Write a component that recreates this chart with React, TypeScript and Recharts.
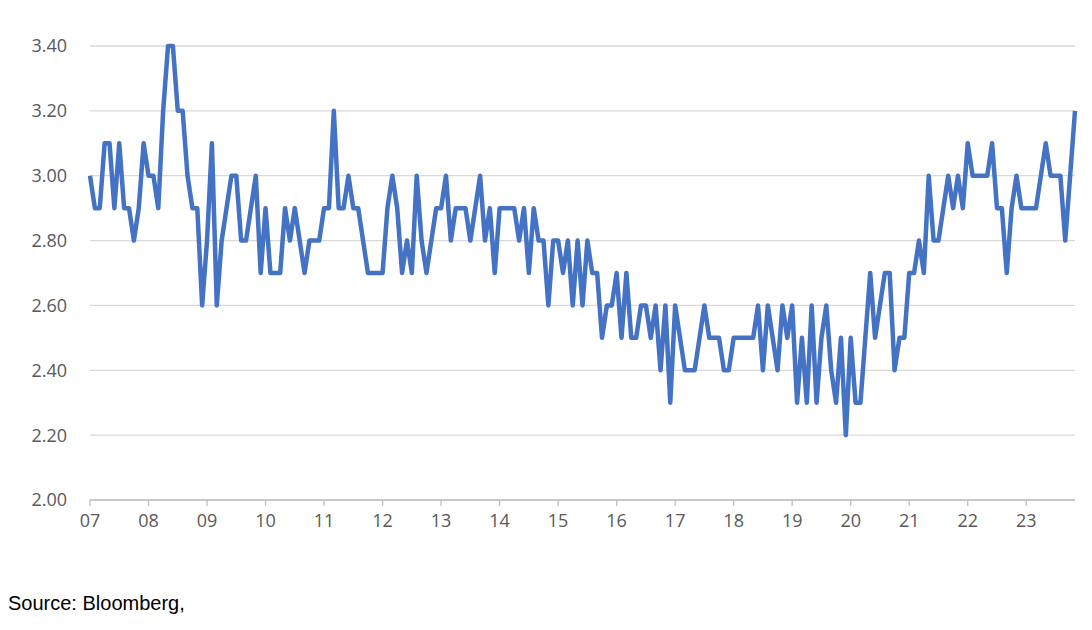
import React from 'react';
import { LineChart, Line, XAxis, YAxis, CartesianGrid } from 'recharts';

const yearLabels = ['07', '08', '09', '10', '11', '12', '13', '14', '15', '16', '17', '18', '19', '20', '21', '22', '23'];

const yTicks = [2.0, 2.2, 2.4, 2.6, 2.8, 3.0, 3.2, 3.4];

// Monthly values, Jan 2007 .. Nov 2023
const v2007 = [3.0, 2.9, 2.9, 3.1, 3.1, 2.9, 3.1, 2.9, 2.9, 2.8, 2.9, 3.1];
const v2008 = [3.0, 3.0, 2.9, 3.2, 3.4, 3.4, 3.2, 3.2, 3.0, 2.9, 2.9, 2.6];
const v2009 = [2.8, 3.1, 2.6, 2.8, 2.9, 3.0, 3.0, 2.8, 2.8, 2.9, 3.0, 2.7];
const v2010 = [2.9, 2.7, 2.7, 2.7, 2.9, 2.8, 2.9, 2.8, 2.7, 2.8, 2.8, 2.8];
const v2011 = [2.9, 2.9, 3.2, 2.9, 2.9, 3.0, 2.9, 2.9, 2.8, 2.7, 2.7, 2.7];
const v2012 = [2.7, 2.9, 3.0, 2.9, 2.7, 2.8, 2.7, 3.0, 2.8, 2.7, 2.8, 2.9];
const v2013 = [2.9, 3.0, 2.8, 2.9, 2.9, 2.9, 2.8, 2.9, 3.0, 2.8, 2.9, 2.7];
const v2014 = [2.9, 2.9, 2.9, 2.9, 2.8, 2.9, 2.7, 2.9, 2.8, 2.8, 2.6, 2.8];
const v2015 = [2.8, 2.7, 2.8, 2.6, 2.8, 2.6, 2.8, 2.7, 2.7, 2.5, 2.6, 2.6];
const v2016 = [2.7, 2.5, 2.7, 2.5, 2.5, 2.6, 2.6, 2.5, 2.6, 2.4, 2.6, 2.3];
const v2017 = [2.6, 2.5, 2.4, 2.4, 2.4, 2.5, 2.6, 2.5, 2.5, 2.5, 2.4, 2.4];
const v2018 = [2.5, 2.5, 2.5, 2.5, 2.5, 2.6, 2.4, 2.6, 2.5, 2.4, 2.6, 2.5];
const v2019 = [2.6, 2.3, 2.5, 2.3, 2.6, 2.3, 2.5, 2.6, 2.4, 2.3, 2.5, 2.2];
const v2020 = [2.5, 2.3, 2.3, 2.5, 2.7, 2.5, 2.6, 2.7, 2.7, 2.4, 2.5, 2.5];
const v2021 = [2.7, 2.7, 2.8, 2.7, 3.0, 2.8, 2.8, 2.9, 3.0, 2.9, 3.0, 2.9];
const v2022 = [3.1, 3.0, 3.0, 3.0, 3.0, 3.1, 2.9, 2.9, 2.7, 2.9, 3.0, 2.9];
const v2023 = [2.9, 2.9, 2.9, 3.0, 3.1, 3.0, 3.0, 3.0, 2.8, 3.0, 3.2];

const values = [
  ...v2007, ...v2008, ...v2009, ...v2010, ...v2011, ...v2012, ...v2013, ...v2014, ...v2015,
  ...v2016, ...v2017, ...v2018, ...v2019, ...v2020, ...v2021, ...v2022, ...v2023,
];

const data = values.map((v, i) => ({ i, v }));
const xTicks = yearLabels.map((_, k) => k * 12);
// label axis span (in months) as drawn in the source chart
const labelSpan = 200.8;

const tickStyle = { fill: '#595959', fontSize: 18, fontFamily: 'Open Sans, sans-serif' };

export default function App() {
  return (
    <div style={{ position: 'relative', width: 1084, height: 614 }}>
      <LineChart
        width={1084}
        height={560}
        data={data}
        margin={{ top: 38, right: 17, bottom: 28, left: 0 }}
      >
        <CartesianGrid vertical={false} stroke="#D9D9D9" strokeWidth={1.3} xAxisId="data" />
        <XAxis
          xAxisId="data"
          dataKey="i"
          type="number"
          domain={[0, values.length - 1]}
          hide
          height={0}
        />
        <XAxis
          xAxisId="lab"
          type="number"
          domain={[0, labelSpan]}
          allowDataOverflow
          ticks={xTicks}
          interval={0}
          tickFormatter={(t: number) => yearLabels[Math.round(t / 12)]}
          height={40}
          axisLine={{ stroke: '#BFBFBF', strokeWidth: 1.3 }}
          tickLine={{ stroke: '#BFBFBF', strokeWidth: 1.3 }}
          tickSize={6}
          tickMargin={8}
          tick={tickStyle}
        />
        <YAxis
          type="number"
          domain={[2.0, 3.4]}
          ticks={yTicks}
          interval={0}
          tickFormatter={(t: number) => t.toFixed(2)}
          width={82}
          axisLine={false}
          tickLine={false}
          tickSize={0}
          tickMargin={23}
          tick={tickStyle}
        />
        <Line
          xAxisId="data"
          dataKey="v"
          type="linear"
          stroke="#4472C4"
          strokeWidth={4.5}
          strokeLinejoin="round"
          dot={false}
          isAnimationActive={false}
        />
      </LineChart>
      <div
        style={{
          position: 'absolute',
          left: 0,
          top: 585,
          fontFamily: '"Liberation Sans", Arial, sans-serif',
          fontSize: 20,
          lineHeight: '20px',
          color: '#000',
        }}
      >
        Source: Bloomberg,
      </div>
    </div>
  );
}
